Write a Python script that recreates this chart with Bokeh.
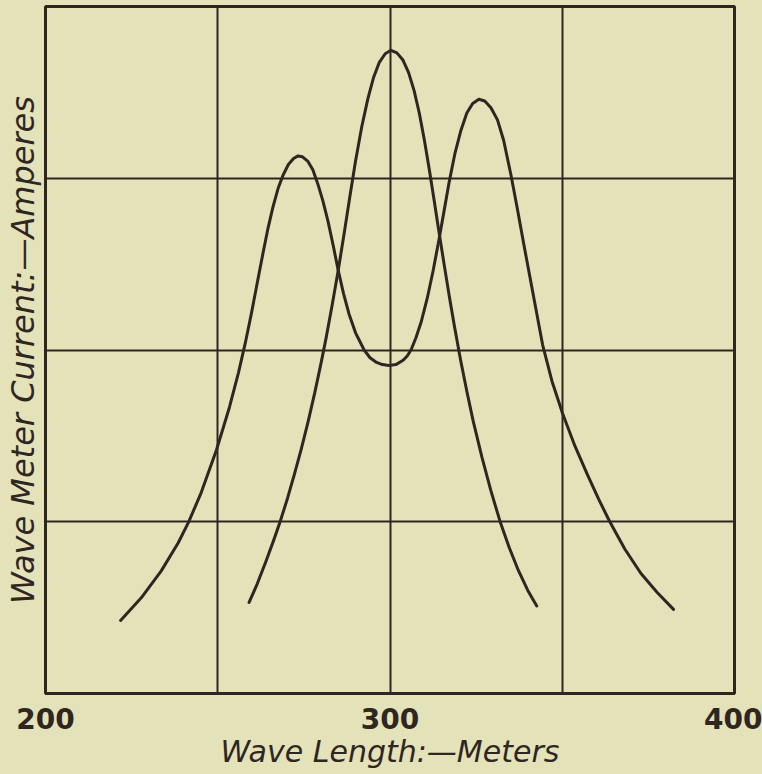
from bokeh.plotting import figure
from bokeh.models import Range1d, FixedTicker, ColumnDataSource
from bokeh.embed import file_html
from bokeh.resources import INLINE

# ---- data (x: wave length in metres, y: current, arbitrary units 0-4)
single_x = [259.1, 261.5, 264.0, 266.2, 268.1, 270.3, 272.3, 274.2, 276.2, 278.2, 280.0,
            281.5, 283.2, 284.9, 286.7, 288.4, 290.0, 291.8, 293.6, 295.2, 296.9, 298.6,
            300.3, 302.0, 303.7, 305.4, 307.0, 308.5, 310.0, 311.5, 312.9, 314.2, 315.7,
            317.2, 318.6, 320.5, 322.3, 324.1, 326.7, 329.3, 331.9, 334.6, 337.3, 340.0,
            342.6]
single_y = [0.53, 0.64, 0.77, 0.89, 1.00, 1.14, 1.28, 1.42, 1.58, 1.755, 1.925,
            2.075, 2.26, 2.455, 2.68, 2.90, 3.10, 3.30, 3.465, 3.585, 3.675, 3.725,
            3.745, 3.73, 3.69, 3.615, 3.51, 3.38, 3.22, 3.04, 2.86, 2.69, 2.50,
            2.315, 2.15, 1.94, 1.76, 1.59, 1.375, 1.18, 1.005, 0.85, 0.715, 0.60,
            0.51]

coupled_x = [221.8, 227.8, 233.6, 238.5, 241.5, 245.2, 249.6, 253.4, 256.0, 258.0, 259.8,
             261.6, 263.1, 264.6, 266.0, 267.5, 269.0, 270.5, 272.0, 273.3, 274.6, 276.1,
             277.6, 279.0, 280.5, 282.0, 283.5, 284.9, 286.5, 288.1, 290.0, 292.5, 294.2,
             295.9, 297.8, 299.7, 301.7, 303.8, 305.0, 306.1, 307.5, 309.0, 310.8, 312.5,
             314.2, 315.7, 317.1, 318.8, 320.6, 322.3, 324.0, 325.8, 327.5, 329.3, 331.2,
             333.0, 335.1, 336.9, 338.8, 341.5, 344.3, 347.0, 350.1, 353.7, 357.4, 360.6,
             363.8, 368.2, 372.8, 377.5, 382.3]
coupled_y = [0.425, 0.557, 0.714, 0.876, 0.996, 1.17, 1.416, 1.667, 1.867, 2.041, 2.216,
             2.405, 2.56, 2.71, 2.83, 2.94, 3.02, 3.08, 3.115, 3.13, 3.125, 3.10,
             3.05, 2.97, 2.87, 2.75, 2.61, 2.47, 2.33, 2.21, 2.10, 2.00, 1.955,
             1.93, 1.915, 1.91, 1.915, 1.94, 1.965, 2.00, 2.07, 2.16, 2.30, 2.46,
             2.64, 2.81, 2.97, 3.14, 3.28, 3.38, 3.435, 3.46, 3.45, 3.41, 3.34,
             3.22, 3.02, 2.83, 2.62, 2.33, 2.03, 1.82, 1.63, 1.44, 1.27, 1.13,
             1.00, 0.84, 0.70, 0.59, 0.49]

x_tick_values = [200, 300, 400]
x_grid_values = [250, 300, 350]
y_grid_values = [1, 2, 3]

x_label = "Wave Length:\u2014Meters"
y_label = "Wave Meter Current:\u2014Amperes"

PAPER = "#E4E2B8"
INK = "#2F2622"

p = figure(width=762, height=774, output_backend="svg", toolbar_location=None,
           x_range=Range1d(200, 400), y_range=Range1d(0, 4),
           min_border_left=44, min_border_right=28, min_border_top=6, min_border_bottom=81)

p.background_fill_color = PAPER
p.border_fill_color = PAPER
p.outline_line_color = INK
p.outline_line_width = 3

# grid
p.xgrid.ticker = FixedTicker(ticks=x_grid_values)
p.ygrid.ticker = FixedTicker(ticks=y_grid_values)
for g in (p.xgrid, p.ygrid):
    g.grid_line_color = INK
    g.grid_line_width = 2
    g.grid_line_alpha = 1.0

# x axis
p.xaxis.ticker = FixedTicker(ticks=x_tick_values)
p.xaxis.axis_line_color = None
p.xaxis.major_tick_line_color = None
p.xaxis.minor_tick_line_color = None
p.xaxis.major_label_text_font = "DejaVu Sans"
p.xaxis.major_label_text_font_style = "bold"
p.xaxis.major_label_text_font_size = "28px"
p.xaxis.major_label_text_color = INK
p.xaxis.major_label_standoff = 8
p.xaxis.axis_label = x_label
p.xaxis.axis_label_text_font = "DejaVu Sans"
p.xaxis.axis_label_text_font_style = "italic"
p.xaxis.axis_label_text_font_size = "30px"
p.xaxis.axis_label_text_color = INK
p.xaxis.axis_label_standoff = 2

# y axis (label only)
p.yaxis.ticker = FixedTicker(ticks=[])
p.yaxis.axis_line_color = None
p.yaxis.major_tick_line_color = None
p.yaxis.minor_tick_line_color = None
p.yaxis.major_label_text_font_size = "0px"
p.yaxis.axis_label = y_label
p.yaxis.axis_label_text_font = "DejaVu Sans"
p.yaxis.axis_label_text_font_style = "italic"
p.yaxis.axis_label_text_font_size = "32px"
p.yaxis.axis_label_text_color = INK
p.yaxis.axis_label_standoff = 4

src1 = ColumnDataSource(data=dict(x=single_x, y=single_y))
src2 = ColumnDataSource(data=dict(x=coupled_x, y=coupled_y))
p.line("x", "y", source=src2, line_color=INK, line_width=3, line_join="round", line_cap="round")
p.line("x", "y", source=src1, line_color=INK, line_width=3, line_join="round", line_cap="round")

html = file_html(p, INLINE)
html = html.replace("</head>",
                    "<style>html,body{margin:0;padding:0;background:%s;}</style></head>" % PAPER, 1)
open("out.html", "w").write(html)
